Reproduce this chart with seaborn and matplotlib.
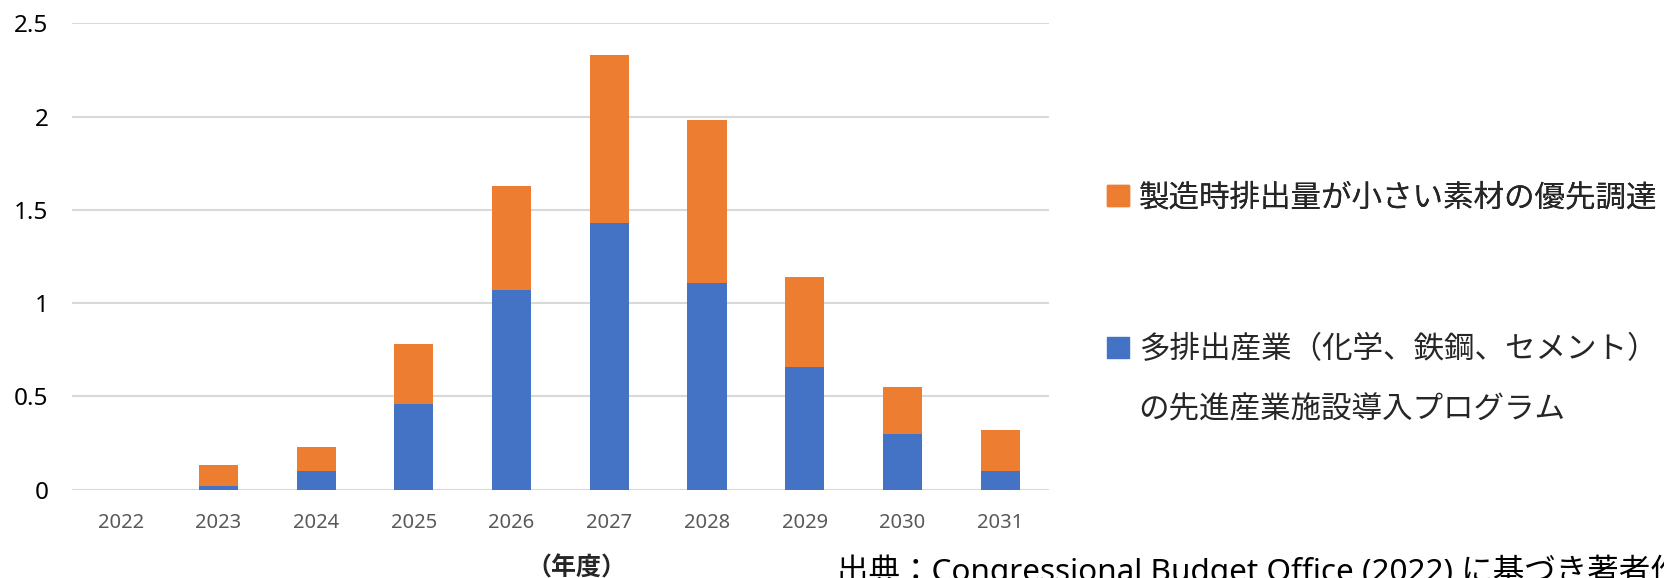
import matplotlib
matplotlib.use("Agg")
import matplotlib.pyplot as plt
from matplotlib.patches import Patch
from matplotlib.ticker import FuncFormatter
import seaborn as sns
import pandas as pd

years = ["2022", "2023", "2024", "2025", "2026", "2027", "2028", "2029", "2030", "2031"]
# 多排出産業（化学、鉄鋼、セメント）の先進産業施設導入プログラム
program_vals = [0.0, 0.02, 0.10, 0.46, 1.07, 1.43, 1.11, 0.66, 0.30, 0.10]
# 製造時排出量が小さい素材の優先調達
procure_vals = [0.0, 0.11, 0.13, 0.32, 0.56, 0.90, 0.87, 0.48, 0.25, 0.22]

label_procure = "製造時排出量が小さい素材の優先調達"
label_program_1 = "多排出産業（化学、鉄鋼、セメント）"
label_program_2 = "の先進産業施設導入プログラム"
source_text = "出典：Congressional Budget Office (2022) に基づき著者作成"

BLUE = "#4472C4"
ORANGE = "#ED7D31"


def main():
    sns.set_theme(style="white")
    plt.rcParams['font.family'] = ['Noto Sans', 'Noto Sans CJK JP', 'DejaVu Sans']

    df = pd.DataFrame({"year": years, "program": program_vals, "procure": procure_vals})
    df["total"] = df["program"] + df["procure"]

    fig = plt.figure(figsize=(16.65, 5.78), dpi=100)
    ax = fig.add_axes([0.0432, 0.153, 0.5868, 0.8065])

    # stacked bars: total in orange, blue part drawn over it
    sns.barplot(data=df, x="year", y="total", color=ORANGE, saturation=1,
                width=0.4, linewidth=0, ax=ax, zorder=3)
    sns.barplot(data=df, x="year", y="program", color=BLUE, saturation=1,
                width=0.4, linewidth=0, ax=ax, zorder=3)

    ax.set_ylim(0, 2.5)
    ax.set_yticks([0, 0.5, 1, 1.5, 2, 2.5])
    ax.yaxis.set_major_formatter(FuncFormatter(lambda v, p: f"{v:g}"))
    ax.grid(axis="y", color="#D9D9D9", linewidth=1.5, zorder=0)
    ax.set_axisbelow(True)
    sns.despine(ax=ax, left=True, bottom=True)
    ax.set_xlabel("")
    ax.set_ylabel("")
    ax.tick_params(axis="y", length=0, pad=17, labelsize=17.5, labelcolor="black")
    ax.tick_params(axis="x", length=0, pad=17, labelsize=14.5, labelcolor="#595959")

    leg1 = fig.legend(handles=[Patch(color=ORANGE)], labels=[label_procure],
                      loc="center left", bbox_to_anchor=(0.665, 0.657),
                      frameon=False, fontsize=22, borderpad=0, borderaxespad=0,
                      handlelength=0.7, handleheight=0.7, handletextpad=0.33)
    fig.add_artist(leg1)
    fig.legend(handles=[Patch(color=BLUE), Patch(alpha=0)],
               labels=[label_program_1, label_program_2],
               loc="upper left", bbox_to_anchor=(0.665, 0.420),
               frameon=False, fontsize=22, borderpad=0, borderaxespad=0,
               handlelength=0.7, handleheight=0.7, handletextpad=0.33,
               labelspacing=0.98)

    fig.text(0.3465, 0.016, "（年度）", ha="center", va="center",
             fontsize=18, fontweight="bold", color="#262626")
    fig.text(0.503, 0.012, source_text, ha="left", va="center",
             fontsize=22.7, color="black")

    fig.savefig("out.png", dpi=100)


if __name__ == "__main__":
    main()
